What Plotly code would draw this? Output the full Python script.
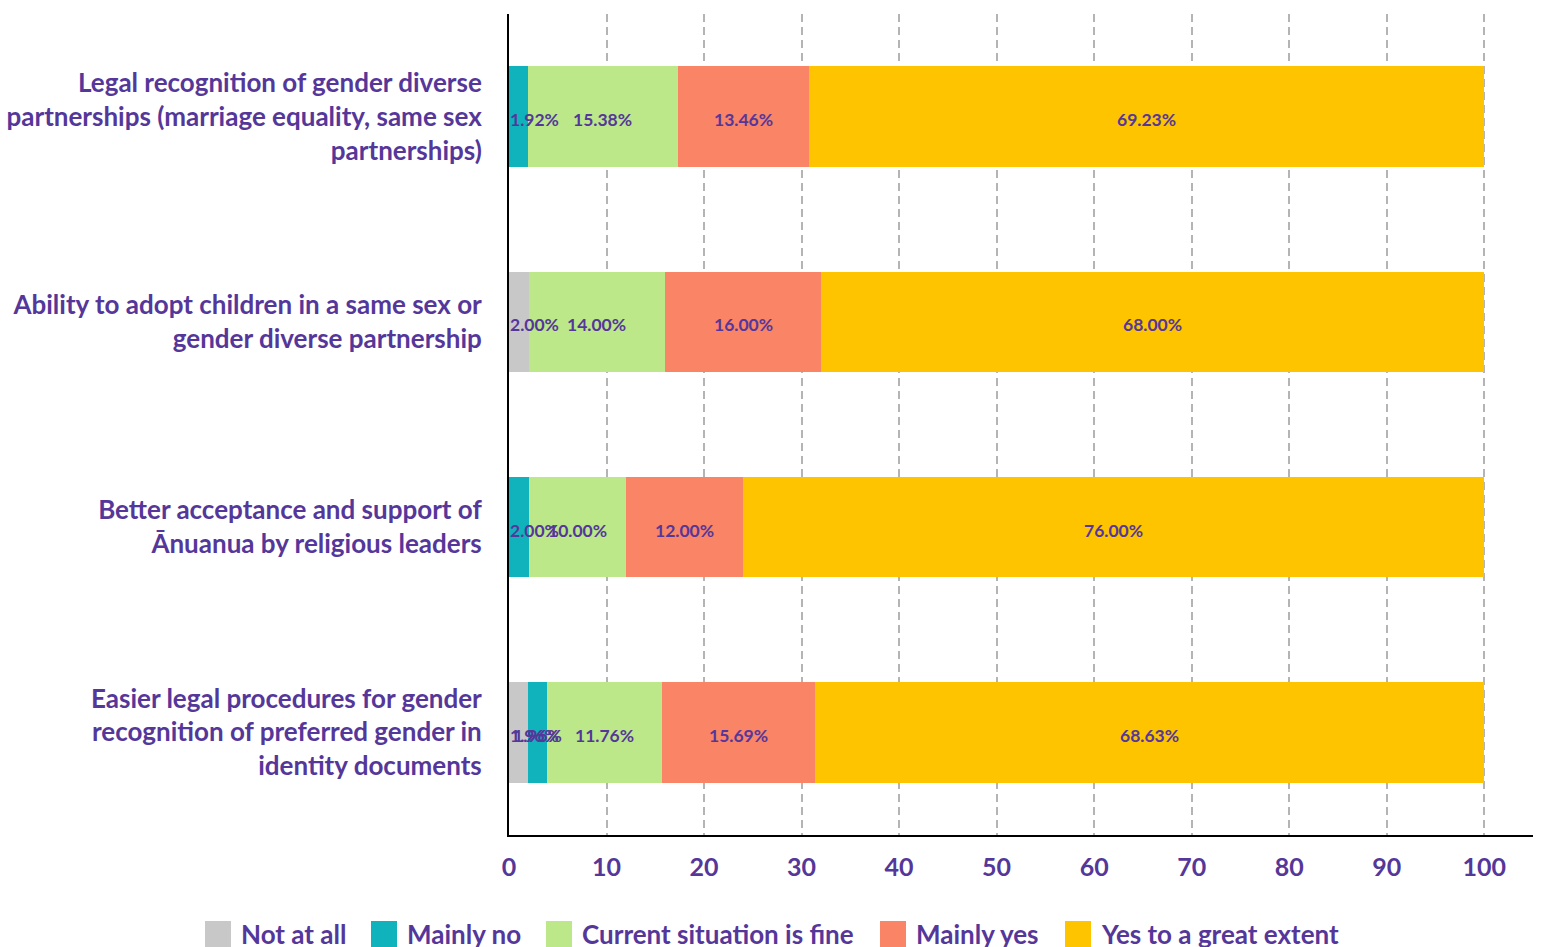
import plotly.graph_objects as go

# Survey questions (top to bottom)
questions = [
    "Legal recognition of gender diverse<br>partnerships (marriage equality, same sex<br>partnerships)",
    "Ability to adopt children in a same sex or<br>gender diverse partnership",
    "Better acceptance and support of<br>Ānuanua by religious leaders",
    "Easier legal procedures for gender<br>recognition of preferred gender in<br>identity documents",
]

# Response shares (%) per question
not_at_all = [0.0, 2.00, 0.0, 1.96]
mainly_no = [1.92, 0.0, 2.00, 1.96]
current_fine = [15.38, 14.00, 10.00, 11.76]
mainly_yes = [13.46, 16.00, 12.00, 15.69]
great_extent = [69.23, 68.00, 76.00, 68.63]

series_names = ["Not at all", "Mainly no", "Current situation is fine",
                "Mainly yes", "Yes to a great extent"]
series_values = [not_at_all, mainly_no, current_fine, mainly_yes, great_extent]
series_colors = ["#c8c8c8", "#10b2bc", "#bce88a", "#f98466", "#fec400"]

x_ticks = [0, 10, 20, 30, 40, 50, 60, 70, 80, 90, 100]

PURPLE = "#55379a"
FONT = "Lato"

fig = go.Figure()

for name, vals, col in zip(series_names, series_values, series_colors):
    fig.add_trace(go.Bar(
        y=questions, x=vals, name=name, orientation="h",
        marker=dict(color=col, line=dict(width=0)),
        showlegend=False, hoverinfo="x+name",
    ))

# Value labels centred on each segment, kept inside the plot at the left edge
MIN_CENTER = 2.6
for i, q in enumerate(questions):
    start = 0.0
    for vals in series_values:
        v = vals[i]
        if v > 0:
            fig.add_annotation(
                x=max(start + v / 2, MIN_CENTER), y=q, text=f"{v:.2f}%",
                showarrow=False, xanchor="center", yanchor="middle", yshift=-3,
                font=dict(family=FONT, size=17.5, color=PURPLE, weight=700),
            )
        start += v

# Legend: coloured squares with labels, centred under the chart
legend_sq_x = [205, 371, 546, 880, 1065]
PLOT_L, PLOT_R, PLOT_T, PLOT_B = 509, 1533, 14, 835
W, H = 1552, 947
def px_to_paper_x(px):
    return (px - PLOT_L) / (PLOT_R - PLOT_L)
def px_to_paper_y(py):
    return (PLOT_B - py) / (PLOT_B - PLOT_T)

for name, col, sx in zip(series_names, series_colors, legend_sq_x):
    fig.add_shape(type="rect", xref="paper", yref="paper",
                  x0=px_to_paper_x(sx), x1=px_to_paper_x(sx + 26),
                  y0=px_to_paper_y(921), y1=px_to_paper_y(947),
                  fillcolor=col, line=dict(width=0))
    fig.add_annotation(xref="paper", yref="paper",
                       x=px_to_paper_x(sx + 34), y=px_to_paper_y(934),
                       xanchor="left", yanchor="middle", showarrow=False,
                       text=name,
                       font=dict(family=FONT, size=26, color=PURPLE, weight=700))

fig.update_layout(
    barmode="stack",
    bargap=0.51,
    width=W, height=H,
    margin=dict(l=PLOT_L, r=W - PLOT_R, t=PLOT_T, b=H - PLOT_B, pad=0,
                autoexpand=False),
    plot_bgcolor="white", paper_bgcolor="white",
    font=dict(family=FONT, color=PURPLE, weight=700),
    showlegend=False,
)

fig.update_xaxes(
    range=[0, 105], tickvals=x_ticks, ticktext=[str(t) for t in x_ticks],
    showgrid=True, gridcolor="#b4b4b4", gridwidth=1.5, griddash="8px,5px",
    zeroline=False, showline=True, linecolor="black", linewidth=2,
    ticks="", ticklabelstandoff=9, automargin=False,
    tickfont=dict(family=FONT, size=25, color=PURPLE, weight=700),
    fixedrange=True,
)
fig.update_yaxes(
    autorange="reversed", showgrid=False, zeroline=False,
    showline=True, linecolor="black", linewidth=2,
    ticks="", ticklabelstandoff=20, automargin=False,
    tickfont=dict(family=FONT, size=26, color=PURPLE, weight=700),
    fixedrange=True,
)

fig.write_html("out.html")
